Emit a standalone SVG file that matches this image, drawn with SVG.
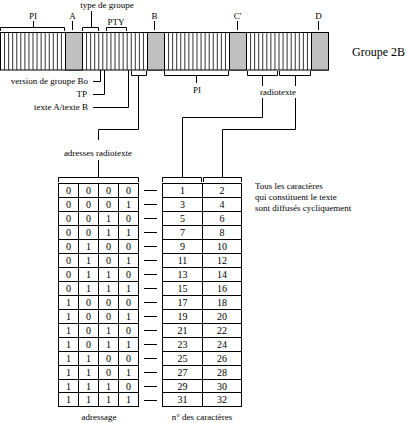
<svg xmlns="http://www.w3.org/2000/svg" width="407" height="423" viewBox="0 0 407 423">
<style>
text{font-family:"Liberation Serif","Times New Roman",serif;font-size:9px;fill:#000}
.c{text-anchor:middle}
.e{text-anchor:end}
.n{font-size:10px;text-anchor:middle}
.ln{fill:none;stroke:#000;stroke-width:1}
.st{fill:none;stroke:#000;stroke-width:0.8}
.chk{fill:#c0c0c0;stroke:#000;stroke-width:1}
.cell{fill:#fff;stroke:#000;stroke-width:1}
</style>
<rect width="407" height="423" fill="#fff"/>

<g id="bar">
<rect x="0.5" y="32.5" width="328" height="37.5" fill="#fff" stroke="#000"/>
<path class="st" d="M4.56 32.5V70M8.63 32.5V70M12.69 32.5V70M16.75 32.5V70M20.81 32.5V70M24.88 32.5V70M28.94 32.5V70M33 32.5V70M37.06 32.5V70M41.13 32.5V70M45.19 32.5V70M49.25 32.5V70M53.31 32.5V70M57.38 32.5V70M61.44 32.5V70"/>
<path class="st" d="M86.56 32.5V70M90.63 32.5V70M94.69 32.5V70M98.75 32.5V70M102.81 32.5V70M106.88 32.5V70M110.94 32.5V70M115 32.5V70M119.06 32.5V70M123.13 32.5V70M127.19 32.5V70M131.25 32.5V70M135.31 32.5V70M139.38 32.5V70M143.44 32.5V70"/>
<path class="st" d="M168.56 32.5V70M172.63 32.5V70M176.69 32.5V70M180.75 32.5V70M184.81 32.5V70M188.88 32.5V70M192.94 32.5V70M197 32.5V70M201.06 32.5V70M205.13 32.5V70M209.19 32.5V70M213.25 32.5V70M217.31 32.5V70M221.38 32.5V70M225.44 32.5V70"/>
<path class="st" d="M250.56 32.5V70M254.63 32.5V70M258.69 32.5V70M262.75 32.5V70M266.81 32.5V70M270.88 32.5V70M274.94 32.5V70M279 32.5V70M283.06 32.5V70M287.13 32.5V70M291.19 32.5V70M295.25 32.5V70M299.31 32.5V70M303.38 32.5V70M307.44 32.5V70"/>
<rect class="chk" x="65.5" y="32.5" width="17" height="37.5"/>
<rect class="chk" x="147.5" y="32.5" width="17" height="37.5"/>
<rect class="chk" x="229.5" y="32.5" width="17" height="37.5"/>
<rect class="chk" x="311.5" y="32.5" width="17" height="37.5"/>
<text x="352" y="56" style="font-size:12px">Groupe 2B</text>
</g>

<g id="labels-top">
<text class="c" x="33" y="19">PI</text>
<text class="c" x="72.5" y="19">A</text>
<text class="c" x="107" y="8">type de groupe</text>
<text class="c" x="116" y="25">PTY</text>
<text class="c" x="154.5" y="19">B</text>
<text class="c" x="237.5" y="19">C'</text>
<text class="c" x="318.5" y="19">D</text>
</g>

<g id="labels-bottom">
<text class="e" x="88" y="84">version de groupe Bo</text>
<text class="e" x="87" y="97">TP</text>
<text class="e" x="88" y="110">texte A/texte B</text>
<text class="c" x="197" y="93">PI</text>
<text class="c" x="278" y="95">radiotexte</text>
<text class="c" x="98" y="156">adresses radiotexte</text>
<text x="255" y="189">Tous les caractères</text>
<text x="255" y="200">qui constituent le texte</text>
<text x="255" y="211">sont diffusés cycliquement</text>
<text class="c" x="99" y="420">adressage</text>
<text class="c" x="202" y="420">n° des caractères</text>
</g>

<g id="connectors">
<!-- top brackets -->
<path class="ln" d="M0.5 31V27.5H64.5V31M33.5 27.5V21"/>
<path class="ln" d="M72.5 30V21"/>
<path class="ln" d="M82.5 31V27.5H98.5V31M91.5 27.5V11"/>
<path class="ln" d="M106.5 31V27.5H126.5V31"/>
<path class="ln" d="M154.5 30V21"/>
<path class="ln" d="M237.5 30V21"/>
<path class="ln" d="M318.5 30V21"/>
<!-- bottom -->
<path class="ln" d="M100.5 70V81.5H93"/>
<path class="ln" d="M104.5 70V94.5H93"/>
<path class="ln" d="M128.5 70V107.5H93"/>
<path class="ln" d="M131.5 71V75.5H146.5V71M138.5 75.5V129.5H98.5V140"/>
<path class="ln" d="M98.5 160V177.5M58.5 182V177.5H138.5V182"/>
<path class="ln" d="M164.5 71V75.5H228.5V71M196.5 75.5V83"/>
<path class="ln" d="M247.5 71V75.5H277.5V71M262.5 75.5V86M262.5 98V117.5H182.5V177.5"/>
<path class="ln" d="M279.5 71V75.5H310.5V71M295.5 75.5V86M295.5 98V129.5H222.5V177.5"/>
<path class="ln" d="M162.5 182V177.5H201.5V182M203.5 182V177.5H241.5V182"/>
<!-- dashes -->
<path class="ln" d="M144 190.5H157M144 204.5H157M144 218.5H157M144 232.5H157M144 246.5H157M144 260.5H157M144 274.5H157M144 288.5H157M144 302.5H157M144 316.5H157M144 330.5H157M144 344.5H157M144 358.5H157M144 372.5H157M144 386.5H157M144 400.5H157"/>
</g>

<g id="table-address">
<rect class="cell" x="58.5" y="183.5" width="80" height="223"/>
<path class="ln" d="M78.5 183.5V406.5M98.5 183.5V406.5M118.5 183.5V406.5M58.5 197.5H138.5M58.5 211.5H138.5M58.5 225.5H138.5M58.5 239.5H138.5M58.5 253.5H138.5M58.5 267.5H138.5M58.5 281.5H138.5M58.5 295.5H138.5M58.5 309.5H138.5M58.5 323.5H138.5M58.5 337.5H138.5M58.5 351.5H138.5M58.5 365.5H138.5M58.5 379.5H138.5M58.5 392.5H138.5"/>
<g class="n">
<text class="n" x="68.5" y="194">0</text><text class="n" x="88.5" y="194">0</text><text class="n" x="108.5" y="194">0</text><text class="n" x="128.5" y="194">0</text>
<text class="n" x="68.5" y="208">0</text><text class="n" x="88.5" y="208">0</text><text class="n" x="108.5" y="208">0</text><text class="n" x="128.5" y="208">1</text>
<text class="n" x="68.5" y="222">0</text><text class="n" x="88.5" y="222">0</text><text class="n" x="108.5" y="222">1</text><text class="n" x="128.5" y="222">0</text>
<text class="n" x="68.5" y="236">0</text><text class="n" x="88.5" y="236">0</text><text class="n" x="108.5" y="236">1</text><text class="n" x="128.5" y="236">1</text>
<text class="n" x="68.5" y="250">0</text><text class="n" x="88.5" y="250">1</text><text class="n" x="108.5" y="250">0</text><text class="n" x="128.5" y="250">0</text>
<text class="n" x="68.5" y="264">0</text><text class="n" x="88.5" y="264">1</text><text class="n" x="108.5" y="264">0</text><text class="n" x="128.5" y="264">1</text>
<text class="n" x="68.5" y="278">0</text><text class="n" x="88.5" y="278">1</text><text class="n" x="108.5" y="278">1</text><text class="n" x="128.5" y="278">0</text>
<text class="n" x="68.5" y="292">0</text><text class="n" x="88.5" y="292">1</text><text class="n" x="108.5" y="292">1</text><text class="n" x="128.5" y="292">1</text>
<text class="n" x="68.5" y="306">1</text><text class="n" x="88.5" y="306">0</text><text class="n" x="108.5" y="306">0</text><text class="n" x="128.5" y="306">0</text>
<text class="n" x="68.5" y="320">1</text><text class="n" x="88.5" y="320">0</text><text class="n" x="108.5" y="320">0</text><text class="n" x="128.5" y="320">1</text>
<text class="n" x="68.5" y="334">1</text><text class="n" x="88.5" y="334">0</text><text class="n" x="108.5" y="334">1</text><text class="n" x="128.5" y="334">0</text>
<text class="n" x="68.5" y="348">1</text><text class="n" x="88.5" y="348">0</text><text class="n" x="108.5" y="348">1</text><text class="n" x="128.5" y="348">1</text>
<text class="n" x="68.5" y="362">1</text><text class="n" x="88.5" y="362">1</text><text class="n" x="108.5" y="362">0</text><text class="n" x="128.5" y="362">0</text>
<text class="n" x="68.5" y="376">1</text><text class="n" x="88.5" y="376">1</text><text class="n" x="108.5" y="376">0</text><text class="n" x="128.5" y="376">1</text>
<text class="n" x="68.5" y="390">1</text><text class="n" x="88.5" y="390">1</text><text class="n" x="108.5" y="390">1</text><text class="n" x="128.5" y="390">0</text>
<text class="n" x="68.5" y="403">1</text><text class="n" x="88.5" y="403">1</text><text class="n" x="108.5" y="403">1</text><text class="n" x="128.5" y="403">1</text>
</g>
</g>

<g id="table-chars">
<rect class="cell" x="162.5" y="183.5" width="79" height="223"/>
<path class="ln" d="M202.5 183.5V406.5M162.5 197.5H241.5M162.5 211.5H241.5M162.5 225.5H241.5M162.5 239.5H241.5M162.5 253.5H241.5M162.5 267.5H241.5M162.5 281.5H241.5M162.5 295.5H241.5M162.5 309.5H241.5M162.5 323.5H241.5M162.5 337.5H241.5M162.5 351.5H241.5M162.5 365.5H241.5M162.5 379.5H241.5M162.5 392.5H241.5"/>
<text class="n" x="182.5" y="194">1</text><text class="n" x="222" y="194">2</text>
<text class="n" x="182.5" y="208">3</text><text class="n" x="222" y="208">4</text>
<text class="n" x="182.5" y="222">5</text><text class="n" x="222" y="222">6</text>
<text class="n" x="182.5" y="236">7</text><text class="n" x="222" y="236">8</text>
<text class="n" x="182.5" y="250">9</text><text class="n" x="222" y="250">10</text>
<text class="n" x="182.5" y="264">11</text><text class="n" x="222" y="264">12</text>
<text class="n" x="182.5" y="278">13</text><text class="n" x="222" y="278">14</text>
<text class="n" x="182.5" y="292">15</text><text class="n" x="222" y="292">16</text>
<text class="n" x="182.5" y="306">17</text><text class="n" x="222" y="306">18</text>
<text class="n" x="182.5" y="320">19</text><text class="n" x="222" y="320">20</text>
<text class="n" x="182.5" y="334">21</text><text class="n" x="222" y="334">22</text>
<text class="n" x="182.5" y="348">23</text><text class="n" x="222" y="348">24</text>
<text class="n" x="182.5" y="362">25</text><text class="n" x="222" y="362">26</text>
<text class="n" x="182.5" y="376">27</text><text class="n" x="222" y="376">28</text>
<text class="n" x="182.5" y="390">29</text><text class="n" x="222" y="390">30</text>
<text class="n" x="182.5" y="403">31</text><text class="n" x="222" y="403">32</text>
</g>
</svg>
